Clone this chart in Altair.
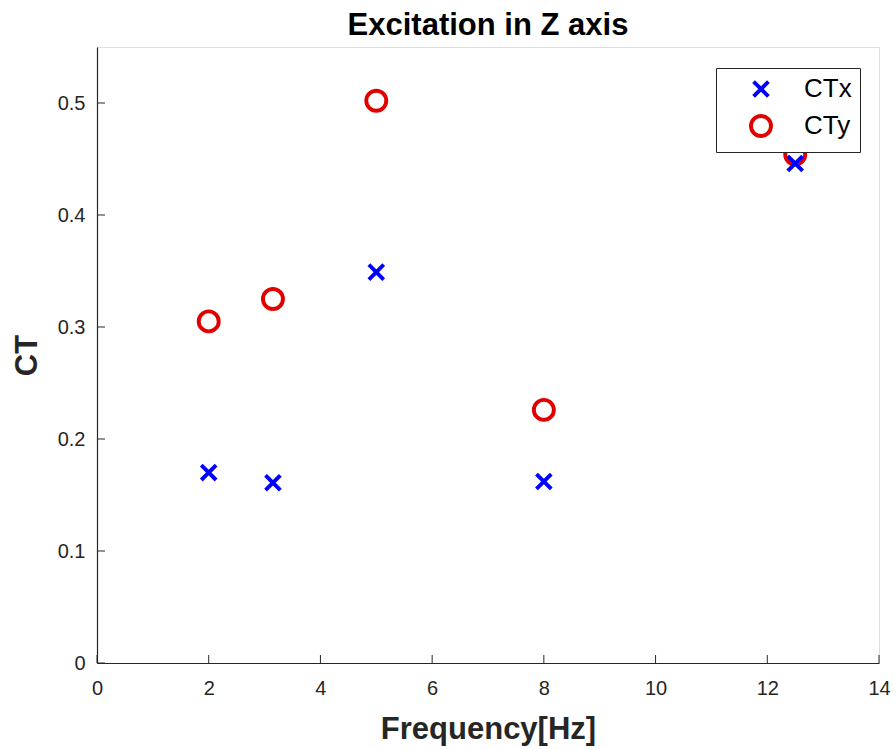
import altair as alt
import pandas as pd

# Data
freq = [2, 3.15, 5, 8, 12.5]
ctx = [0.170, 0.161, 0.349, 0.162, 0.446]
cty = [0.305, 0.325, 0.502, 0.226, 0.454]
series_names = ["CTx", "CTy"]
x_ticks = [0, 2, 4, 6, 8, 10, 12, 14]
y_ticks = [0, 0.1, 0.2, 0.3, 0.4, 0.5]

rows = []
for f, v in zip(freq, cty):
    rows.append({"Frequency": f, "CT": v, "series": "CTy"})
for f, v in zip(freq, ctx):
    rows.append({"Frequency": f, "CT": v, "series": "CTx"})
df = pd.DataFrame(rows)

W, H = 782, 616
FONT = "Liberation Sans"
AX = "#262626"

x_scale = alt.Scale(domain=[0, 14], nice=False, zero=False)
y_scale = alt.Scale(domain=[0, 0.55], nice=False, zero=False)

X_PATH = "M-0.74,-0.74L0.74,0.74M-0.74,0.74L0.74,-0.74"

points = alt.Chart(df).mark_point(filled=False, strokeWidth=3.9, size=400, opacity=1).encode(
    x=alt.X("Frequency:Q", scale=x_scale,
            axis=alt.Axis(values=x_ticks, format="d", title="Frequency[Hz]", grid=False, ticks=False,
                          domainColor=AX, domainWidth=1.2, labelColor=AX, labelFontSize=20,
                          labelFont=FONT, labelPadding=15, labelFlush=False,
                          titleFont=FONT, titleFontSize=31, titleFontWeight="bold", titleColor=AX,
                          titleY=75, titleBaseline="alphabetic")),
    y=alt.Y("CT:Q", scale=y_scale,
            axis=alt.Axis(values=y_ticks, format=".1~f", title="CT", grid=False, ticks=False,
                          domainColor=AX, domainWidth=1.2, labelColor=AX, labelFontSize=20,
                          labelFont=FONT, labelPadding=12, labelFlush=False,
                          titleFont=FONT, titleFontSize=31, titleFontWeight="bold", titleColor=AX,
                          titleX=-61, titleY=H / 2, titleAngle=-90, titleAlign="center",
                          titleBaseline="alphabetic")),
    color=alt.Color("series:N", scale=alt.Scale(domain=series_names, range=["#0000ff", "#e00000"]),
                    legend=alt.Legend(title=None, orient="none", legendX=619, legendY=21,
                                      strokeColor="#262626", fillColor="white", padding=8,
                                      labelFont=FONT, labelFontSize=26, labelColor="black",
                                      symbolSize=400, symbolStrokeWidth=3.9, symbolOffset=24,
                                      labelOffset=30, rowPadding=3, symbolType="circle")),
    shape=alt.Shape("series:N", scale=alt.Scale(domain=series_names, range=[X_PATH, "circle"])),
    order=alt.Order("order_idx:Q"),
).transform_calculate(order_idx="datum.series == 'CTy' ? 0 : 1")

xt = pd.DataFrame({"v": x_ticks})
yt = pd.DataFrame({"v": y_ticks})

xticks = alt.Chart(xt).mark_rule(color=AX, strokeWidth=1).encode(
    x=alt.X("v:Q", scale=x_scale), y=alt.value(H), y2=alt.value(H - 8))
yticks = alt.Chart(yt).mark_rule(color=AX, strokeWidth=1).encode(
    y=alt.Y("v:Q", scale=y_scale), x=alt.value(0), x2=alt.value(8))

chart = alt.layer(xticks, yticks, points).properties(
    width=W, height=H,
    title=alt.TitleParams("Excitation in Z axis", font=FONT, fontSize=31, fontWeight="bold",
                          color="black", anchor="middle", offset=5),
    padding={"left": 97, "top": 47, "right": 16, "bottom": 86},
    autosize=alt.AutoSizeParams(type="none"),
).configure_view(stroke=None).configure(background="white")

chart.save("out.html", embed_options={"renderer": "svg", "actions": False})
